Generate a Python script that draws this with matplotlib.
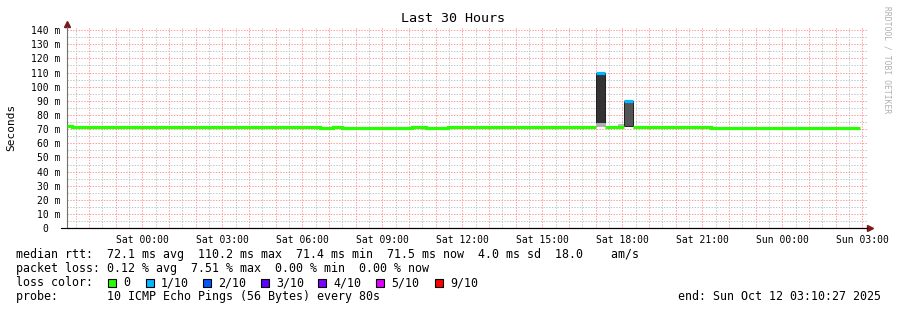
import numpy as np
import pandas as pd
import matplotlib
matplotlib.use("Agg")
import matplotlib.pyplot as plt
import matplotlib.dates as mdates
import matplotlib.transforms as mtransforms
from matplotlib.patches import Rectangle

# datos (ms)
seg_start = ["2025-10-10 21:10", "2025-10-10 21:22", "2025-10-11 06:40", "2025-10-11 07:08",
             "2025-10-11 07:29", "2025-10-11 10:07", "2025-10-11 10:38", "2025-10-11 11:28",
             "2025-10-11 17:00", "2025-10-11 17:20", "2025-10-11 18:03", "2025-10-11 18:24",
             "2025-10-11 21:19"]
seg_end_last = "2025-10-12 02:54"
median_ms = [72.0, 71.4, 71.0, 71.4, 71.1, 71.4, 71.0, 71.5, 110.0, 71.4, 90.2, 71.5, 71.1]
loss_tenths = [0, 0, 0, 0, 0, 0, 0, 0, 1, 0, 1, 0, 0]

# humo (smoke) alrededor de la mediana
smoke_start = ["2025-10-11 17:00", "2025-10-11 17:00", "2025-10-11 17:50", "2025-10-11 18:03"]
smoke_end = ["2025-10-11 17:20", "2025-10-11 17:20", "2025-10-11 18:03", "2025-10-11 18:24"]
smoke_lo = [74.5, 72.0, 72.0, 72.0]
smoke_hi = [110.0, 74.5, 73.5, 90.2]
smoke_shade = ["#333333", "#b0b0b0", "#bdbdbd", "#555555"]

loss_labels = ["0", "1/10", "2/10", "3/10", "4/10", "5/10", "9/10"]
loss_colors = ["#26ff00", "#00b8ff", "#0059ff", "#5e00ff", "#7e00ff", "#dd00ff", "#ff0000"]
loss_color_of = {0: "#26ff00", 1: "#00b8ff"}

t_begin = pd.Timestamp("2025-10-10 21:10:27")
t_end = pd.Timestamp("2025-10-12 03:10:27")

W, H = 897, 310
MONO = "DejaVu Sans Mono"
plt.rcParams["font.family"] = MONO


def px(x, y):
    return x / W, 1 - y / H


fig = plt.figure(figsize=(W / 100, H / 100), dpi=100)
fig.patch.set_facecolor("white")
ax = fig.add_axes([67 / W, (H - 228.3) / H, 800 / W, (228.3 - 27.2) / H])
ax.set_xlim(t_begin, t_end)
ax.set_ylim(0, 142)

# rejilla
ax.xaxis.set_major_locator(mdates.HourLocator(interval=1))
ax.xaxis.set_minor_locator(mdates.MinuteLocator(byminute=[30]))


def fmt_x(v, pos):
    d = mdates.num2date(v)
    return d.strftime("%a %H:%M") if d.hour % 3 == 0 else ""


ax.xaxis.set_major_formatter(plt.FuncFormatter(fmt_x))
ax.set_yticks(np.arange(0, 141, 10))
ax.set_yticks(np.arange(5, 141, 10), minor=True)
ax.set_yticklabels([f"{v} m" if v else "0" for v in range(0, 141, 10)])
ax.grid(which="minor", color="#c6c6c6", lw=0.72, ls=(0, (1.4, 1.4)))
ax.grid(which="major", color="#ff9c9c", lw=0.72, ls=(0, (1.4, 1.4)))
ax.set_axisbelow(True)
ax.tick_params(which="both", length=0)
ax.tick_params(axis="x", labelsize=7, pad=4.5)
ax.tick_params(axis="y", labelsize=7, pad=5)
zero_lbl = ax.get_yticklabels()[0]
zero_lbl.set_transform(zero_lbl.get_transform() +
                       mtransforms.ScaledTranslation(-0.12, 0, fig.dpi_scale_trans))

for s in ["top", "right"]:
    ax.spines[s].set_visible(False)
ax.spines["left"].set_color("#707070")
ax.spines["left"].set_linewidth(0.8)
ax.spines["bottom"].set_color("black")
ax.spines["bottom"].set_linewidth(0.8)
ax.plot([-0.007, 1.0], [0, 0], color="black", lw=0.8, transform=ax.transAxes, clip_on=False)
ax.plot([0], [1.018], marker="^", ms=4, color="#7a1a1a", transform=ax.transAxes, clip_on=False)
ax.plot([1.004], [0], marker=">", ms=4, color="#7a1a1a", transform=ax.transAxes, clip_on=False)

# humo
for s, e, lo, hi, c in zip(smoke_start, smoke_end, smoke_lo, smoke_hi, smoke_shade):
    s, e = pd.Timestamp(s), pd.Timestamp(e)
    ax.bar(s, hi - lo, width=e - s, bottom=lo, align="edge", color=c,
           edgecolor="#1e1e1e" if c in ("#333333", "#555555") else c, lw=0.7, zorder=2)

# mediana coloreada por perdida
starts = [pd.Timestamp(v) for v in seg_start]
ends = starts[1:] + [pd.Timestamp(seg_end_last)]
i = 0
while i < len(starts):
    j = i
    while j + 1 < len(starts) and loss_tenths[j + 1] == loss_tenths[i]:
        j += 1
    xs, ys = [], []
    for k in range(i, j + 1):
        xs += [starts[k], ends[k]]
        ys += [median_ms[k], median_ms[k]]
    ax.plot(xs, ys, color=loss_color_of[loss_tenths[i]], lw=2.3,
            solid_capstyle="butt", solid_joinstyle="miter", zorder=3)
    i = j + 1

# textos
fig.text(*px(453, 19), "Last 30 Hours", fontsize=9.6, ha="center", va="center")
fig.text(*px(11, 127), "Seconds", fontsize=8, rotation=90, ha="center", va="center")
fig.text(*px(887, 60), "RRDTOOL / TOBI OETIKER", fontsize=5.8, rotation=270,
         color="#b0b0b0", ha="center", va="center")

fs = 8.4
fig.text(*px(16, 254.5), "median rtt:  72.1 ms avg  110.2 ms max  71.4 ms min  71.5 ms now  4.0 ms sd  18.0    am/s",
         fontsize=fs, ha="left", va="center")
fig.text(*px(16, 268.5), "packet loss: 0.12 % avg  7.51 % max  0.00 % min  0.00 % now",
         fontsize=fs, ha="left", va="center")
fig.text(*px(16, 282.5), "loss color:", fontsize=fs, ha="left", va="center")
box_x = [108, 146, 203, 261, 318, 376, 435]
for bx, lab, col in zip(box_x, loss_labels, loss_colors):
    fig.add_artist(Rectangle(px(bx, 286.5), 8 / W, 8 / H, transform=fig.transFigure,
                             facecolor=col, edgecolor="black", lw=0.8))
    fig.text(*px(bx + 15, 282.5), lab, fontsize=fs, ha="left", va="center")
fig.text(*px(16, 296.5), "probe:       10 ICMP Echo Pings (56 Bytes) every 80s",
         fontsize=fs, ha="left", va="center")
fig.text(*px(881, 296.5), "end: Sun Oct 12 03:10:27 2025", fontsize=fs, ha="right", va="center")

fig.savefig("out.png", dpi=100, facecolor="white")
